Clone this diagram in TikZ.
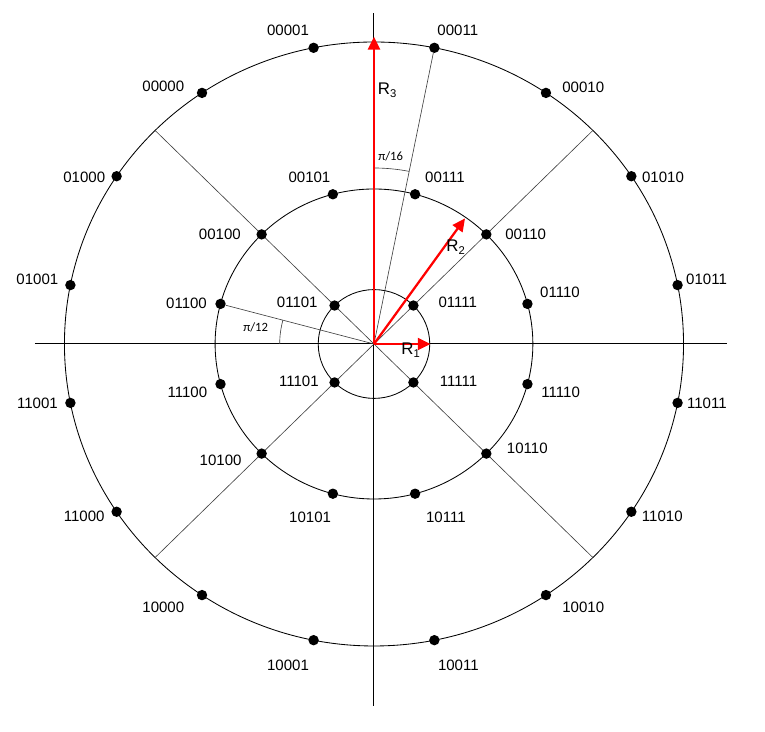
\documentclass[tikz,border=0pt]{standalone}
\usepackage{fontspec}
\setmainfont{Liberation Sans}
\newfontfamily\anglefont{Carlito}
\usetikzlibrary{arrows.meta}

\begin{document}
\begin{tikzpicture}[x=1.025cm,y=1cm,
  dot/.style={circle,fill,inner sep=0pt,minimum size=0.26cm},
  ray/.style={black!75,line width=0.45pt},
  vec/.style={red,line width=1.6pt,-{Triangle[length=0.32cm,width=0.3cm]}},
  angletext/.style={font=\anglefont\fontsize{9}{10}\selectfont,inner sep=0pt},
  rtext/.style={font=\fontsize{12}{14}\selectfont,inner sep=0pt},
  every label/.style={font=\fontsize{10.7}{12}\selectfont,inner sep=0pt}]
  \useasboundingbox (-9.122,-9.7) rectangle (9.537,8.6);
  \coordinate (O) at (0,0);
  \draw[line width=0.7pt] (-8.27,0) -- (8.62,0);
  \draw[line width=0.7pt] (0,-9.04) -- (0,8.27);
  \draw[line width=0.6pt] (O) circle (7.55) (O) circle (3.875) (O) circle (1.36);
  \coordinate (a1) at (45:7.55);
  \coordinate (a2) at (135:7.55);
  \coordinate (a3) at (225:7.55);
  \coordinate (a4) at (315:7.55);
  \draw[ray] (a1) -- (a3) (a2) -- (a4);
  \draw[ray] (90:4.4) arc[start angle=90,end angle=78.75,radius=4.4];
  \draw[ray] (180:2.3) arc[start angle=180,end angle=165,radius=2.3];

  \node[dot,label={[shift={(-0.624,0.425)}]center:00001}] (d00001) at (101.25:7.55) {};
  \node[dot,label={[shift={(0.571,0.425)}]center:00011}] (d00011) at (78.75:7.55) {};
  \node[dot,label={[shift={(-0.944,0.16)}]center:00000}] (d00000) at (123.75:7.55) {};
  \node[dot,label={[shift={(0.91,0.135)}]center:00010}] (d00010) at (56.25:7.55) {};
  \node[dot,label={[shift={(-0.79,-0.025)}]center:01000}] (d01000) at (146.25:7.55) {};
  \node[dot,label={[shift={(0.773,-0.025)}]center:01010}] (d01010) at (33.75:7.55) {};
  \node[dot,label={[shift={(-0.805,0.15)}]center:01001}] (d01001) at (168.75:7.55) {};
  \node[dot,label={[shift={(0.707,0.14)}]center:01011}] (d01011) at (11.25:7.55) {};
  \node[dot,label={[shift={(-0.805,-0.02)}]center:11001}] (d11001) at (191.25:7.55) {};
  \node[dot,label={[shift={(0.715,-0.02)}]center:11011}] (d11011) at (348.75:7.55) {};
  \node[dot,label={[shift={(-0.79,-0.125)}]center:11000}] (d11000) at (213.75:7.55) {};
  \node[dot,label={[shift={(0.756,-0.125)}]center:11010}] (d11010) at (326.25:7.55) {};
  \node[dot,label={[shift={(-0.944,-0.31)}]center:10000}] (d10000) at (236.25:7.55) {};
  \node[dot,label={[shift={(0.91,-0.31)}]center:10010}] (d10010) at (303.75:7.55) {};
  \node[dot,label={[shift={(-0.624,-0.62)}]center:10001}] (d10001) at (258.75:7.55) {};
  \node[dot,label={[shift={(0.585,-0.62)}]center:10011}] (d10011) at (281.25:7.55) {};

  \node[dot,label={[shift={(-0.571,0.425)}]center:00101}] (d00101) at (105:3.875) {};
  \node[dot,label={[shift={(0.73,0.425)}]center:00111}] (d00111) at (75:3.875) {};
  \node[dot,label={[shift={(-1.02,0)}]center:00100}] (d00100) at (135:3.875) {};
  \node[dot,label={[shift={(0.96,0)}]center:00110}] (d00110) at (45:3.875) {};
  \node[dot,label={[shift={(-0.83,0.025)}]center:01100}] (d01100) at (165:3.875) {};
  \node[dot,label={[shift={(0.795,0.3)}]center:01110}] (d01110) at (15:3.875) {};
  \node[dot,label={[shift={(-0.81,-0.21)}]center:11100}] (d11100) at (195:3.875) {};
  \node[dot,label={[shift={(0.81,-0.21)}]center:11110}] (d11110) at (345:3.875) {};
  \node[dot,label={[shift={(-1.0,-0.175)}]center:10100}] (d10100) at (225:3.875) {};
  \node[dot,label={[shift={(1.0,0.13)}]center:10110}] (d10110) at (315:3.875) {};
  \node[dot,label={[shift={(-0.554,-0.58)}]center:10101}] (d10101) at (255:3.875) {};
  \node[dot,label={[shift={(0.75,-0.58)}]center:10111}] (d10111) at (285:3.875) {};

  \node[dot,label={[shift={(-0.91,0.07)}]center:01101}] (d01101) at (135:1.36) {};
  \node[dot,label={[shift={(1.083,0.07)}]center:01111}] (d01111) at (45:1.36) {};
  \node[dot,label={[shift={(-0.87,0.035)}]center:11101}] (d11101) at (225:1.36) {};
  \node[dot,label={[shift={(1.1,0.035)}]center:11111}] (d11111) at (315:1.36) {};

  \draw[ray] (O) -- (d00011);
  \draw[ray] (O) -- (d01100);

  \coordinate (t3) at (0,7.68);
  \coordinate (t2) at (2.22,3.14);
  \coordinate (t1) at (1.38,0);
  \draw[vec] (O) -- (t3);
  \draw[vec] (O) -- (t2);
  \draw[vec] (O) -- (t1);
  \node[rtext] (r3) at (0.33,6.35) {R\textsubscript{3}};
  \node[rtext] (r2) at (2.0,2.425) {R\textsubscript{2}};
  \node[rtext] (r1) at (0.9,-0.16) {R\textsubscript{1}};
  \node[angletext] (p16) at (0.407,4.68) {π/16};
  \node[angletext] (p12) at (-2.885,0.41) {π/12};
\end{tikzpicture}
\end{document}
